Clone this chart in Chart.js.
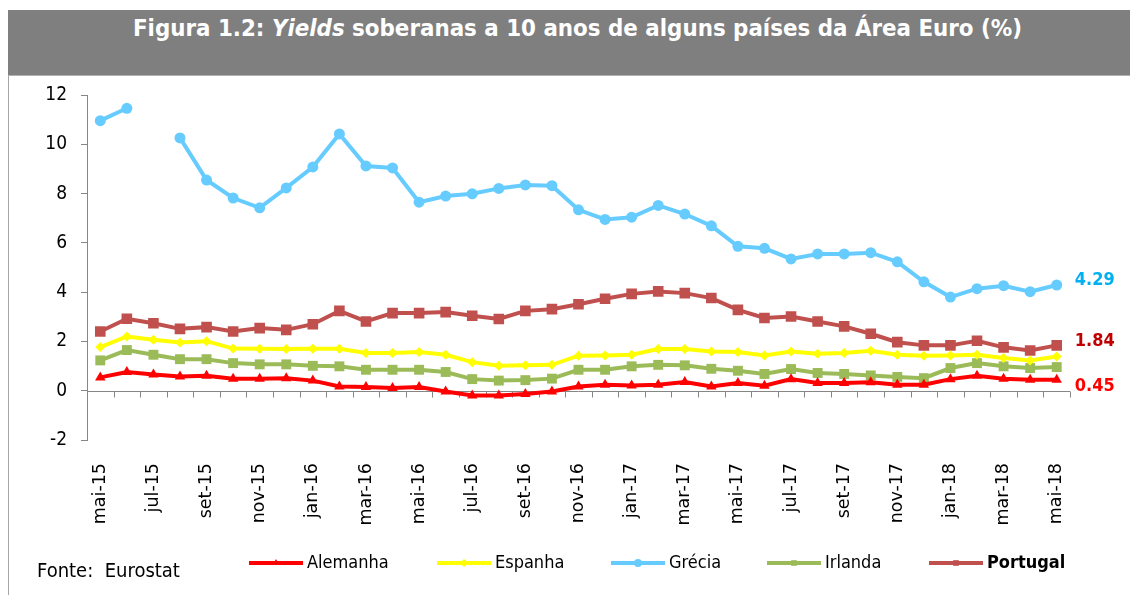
<!DOCTYPE html>
<html>
<head>
<meta charset="utf-8">
<script src="https://cdn.jsdelivr.net/npm/chart.js@4.4.1/dist/chart.umd.min.js"></script>
<style>
html,body{margin:0;padding:0;background:#fff;width:1130px;height:595px;overflow:hidden;}
#banner{position:absolute;left:8px;top:10px;width:1122px;height:65px;background:#7f7f7f;}
#title{position:absolute;left:25px;width:1105px;top:16px;line-height:24px;text-align:center;color:#fff;
  font-family:"DejaVu Sans Condensed","DejaVu Sans",sans-serif;font-weight:bold;font-size:23.8px;white-space:nowrap;}
#frame{position:absolute;left:8px;top:75px;width:1122px;height:520px;border-left:1px solid #a6a6a6;border-top:1px solid #b0b0b0;box-sizing:border-box;}
canvas{position:absolute;left:0;top:0;}
</style>
</head>
<body>
<div id="banner"></div>
<div id="title">Figura 1.2: <i>Yields</i> soberanas a 10 anos de alguns países da Área Euro (%)</div>
<div id="frame"></div>
<canvas id="c" width="1130" height="595"></canvas>
<script>
// ---- Data ----
const categories = ["mai-15","jun-15","jul-15","ago-15","set-15","out-15","nov-15","dez-15",
  "jan-16","fev-16","mar-16","abr-16","mai-16","jun-16","jul-16","ago-16","set-16","out-16","nov-16","dez-16",
  "jan-17","fev-17","mar-17","abr-17","mai-17","jun-17","jul-17","ago-17","set-17","out-17","nov-17","dez-17",
  "jan-18","fev-18","mar-18","abr-18","mai-18"];

const alemanha = [0.54,0.76,0.66,0.58,0.61,0.49,0.49,0.51,0.41,0.17,0.15,0.11,0.15,-0.03,-0.19,-0.19,-0.13,-0.03,0.17,0.24,
  0.21,0.24,0.35,0.17,0.31,0.20,0.47,0.31,0.31,0.34,0.24,0.24,0.47,0.61,0.49,0.45,0.45];
const espanha = [1.77,2.20,2.07,1.96,2.01,1.71,1.70,1.69,1.70,1.70,1.53,1.53,1.57,1.46,1.16,1.01,1.03,1.05,1.42,1.43,
  1.46,1.69,1.69,1.59,1.57,1.43,1.59,1.50,1.53,1.62,1.46,1.42,1.43,1.46,1.33,1.23,1.39];
const grecia = [10.96,11.46,null,10.26,8.55,7.82,7.42,8.23,9.08,10.42,9.12,9.04,7.65,7.90,7.99,8.21,8.35,8.32,7.34,6.95,
  7.04,7.52,7.17,6.69,5.86,5.78,5.35,5.55,5.55,5.60,5.23,4.42,3.80,4.14,4.26,4.02,4.29];
const irlanda = [1.23,1.65,1.46,1.28,1.28,1.12,1.07,1.07,1.01,0.99,0.85,0.85,0.85,0.76,0.47,0.41,0.43,0.49,0.85,0.85,
  0.99,1.05,1.03,0.89,0.81,0.68,0.88,0.72,0.68,0.62,0.56,0.51,0.92,1.12,0.99,0.92,0.96];
const portugal = [2.40,2.92,2.74,2.51,2.58,2.40,2.54,2.47,2.70,3.24,2.81,3.15,3.15,3.19,3.04,2.91,3.24,3.31,3.51,3.73,
  3.93,4.03,3.96,3.76,3.28,2.95,3.01,2.81,2.61,2.31,1.97,1.84,1.84,2.03,1.76,1.63,1.84];

const seriesNames = ["Alemanha","Espanha","Grécia","Irlanda","Portugal"];
const yTicks = [-2,0,2,4,6,8,10,12];
const sourceText = "Fonte:  Eurostat";

// ---- Plugins ----
const zeroAxis = {
  id: 'zeroAxis',
  beforeDatasetsDraw(chart) {
    const xs = chart.scales.x, ys = chart.scales.y, ctx = chart.ctx, ca = chart.chartArea;
    const y0 = Math.round(ys.getPixelForValue(0)) + 0.5;
    const step = xs.getPixelForValue(1) - xs.getPixelForValue(0);
    const start = xs.getPixelForValue(0) - step / 2;
    ctx.save();
    ctx.strokeStyle = '#868686';
    ctx.lineWidth = 1;
    ctx.beginPath();
    ctx.moveTo(ca.left, y0);
    ctx.lineTo(ca.right, y0);
    for (let i = 0; i <= categories.length; i++) {
      const px = Math.round(start + i * step) + 0.5;
      ctx.moveTo(px, y0);
      ctx.lineTo(px, y0 + 6);
    }
    ctx.stroke();
    ctx.restore();
  }
};

const endLabels = {
  id: 'endLabels',
  afterDatasetsDraw(chart, args, opts) {
    const ctx = chart.ctx;
    chart.data.datasets.forEach((ds, i) => {
      const cfg = opts.items[ds.label];
      if (!cfg) return;
      const meta = chart.getDatasetMeta(i);
      const last = meta.data[meta.data.length - 1];
      const v = ds.data[ds.data.length - 1];
      ctx.save();
      ctx.font = opts.font;
      ctx.fillStyle = cfg.color;
      ctx.textAlign = 'left';
      ctx.textBaseline = 'middle';
      ctx.fillText(v.toFixed(2), last.x + opts.dx, last.y + cfg.dy);
      ctx.restore();
    });
  }
};

const customLegend = {
  id: 'customLegend',
  afterDraw(chart, args, opts) {
    const ctx = chart.ctx;
    ctx.save();
    chart.data.datasets.forEach((ds, i) => {
      const x = opts.xs[i], y = opts.y;
      ctx.strokeStyle = ds.borderColor;
      ctx.lineWidth = 4;
      ctx.beginPath();
      ctx.moveTo(x, y);
      ctx.lineTo(x + opts.lineLen, y);
      ctx.stroke();
      ctx.fillStyle = ds.pointBackgroundColor;
      Chart.helpers.drawPoint(ctx, {pointStyle: ds.pointStyle, radius: 4, rotation: 0, borderWidth: 0}, x + opts.lineLen / 2, y);
      ctx.fillStyle = '#000';
      ctx.textAlign = 'left';
      ctx.textBaseline = 'middle';
      ctx.font = (ds.label === 'Portugal' ? 'bold ' : '') + opts.font;
      ctx.fillText(ds.label, x + opts.lineLen + 4, y);
    });
    ctx.font = opts.sourceFont;
    ctx.fillStyle = '#000';
    ctx.textAlign = 'left';
    ctx.textBaseline = 'middle';
    ctx.fillText(sourceText, 37, 572);
    ctx.restore();
  }
};

// ---- Chart ----
function mk(label, data, color, style, radius) {
  return {
    label, data,
    borderColor: color, backgroundColor: color,
    pointBackgroundColor: color, pointBorderColor: color,
    pointStyle: style, pointRadius: radius, pointBorderWidth: 0,
    borderWidth: 4, tension: 0, spanGaps: false, fill: false
  };
}

new Chart(document.getElementById('c'), {
  type: 'line',
  data: {
    labels: categories,
    datasets: [
      mk(seriesNames[0], alemanha, '#FF0000', 'triangle', 6),
      mk(seriesNames[1], espanha, '#FFFF00', 'rectRot', 5),
      mk(seriesNames[2], grecia, '#66CCFF', 'circle', 5.5),
      mk(seriesNames[3], irlanda, '#9BBB59', 'rect', 7),
      mk(seriesNames[4], portugal, '#C0504D', 'rect', 7.5)
    ]
  },
  options: {
    responsive: false,
    animation: false,
    devicePixelRatio: 1,
    layout: {padding: {left: 0, top: 95, right: 60, bottom: 0}},
    plugins: {
      legend: {display: false},
      tooltip: {enabled: false},
      title: {display: false},
      endLabels: {
        font: 'bold 18px "DejaVu Sans Condensed", "DejaVu Sans"',
        dx: 18,
        items: {
          'Grécia': {color: '#00B0F0', dy: -5},
          'Portugal': {color: '#C00000', dy: -4},
          'Alemanha': {color: '#FF0000', dy: 7}
        }
      },
      customLegend: {
        xs: [249, 437, 611, 767, 929],
        y: 563,
        lineLen: 54,
        font: '18px "DejaVu Sans Condensed", "DejaVu Sans"',
        sourceFont: '20px "DejaVu Sans Condensed", "DejaVu Sans"'
      }
    },
    scales: {
      x: {
        type: 'category',
        offset: true,
        grid: {display: false},
        border: {display: false},
        ticks: {
          autoSkip: false,
          maxRotation: 90,
          minRotation: 90,
          padding: 15,
          color: '#000',
          font: {family: '"DejaVu Sans", sans-serif', size: 17.5},
          callback: (v, i) => (i % 2 === 0 ? categories[i] : '')
        },
        afterFit: (s) => { s.height = 155; }
      },
      y: {
        min: -2, max: 12,
        afterBuildTicks: (s) => { s.ticks = yTicks.map(v => ({value: v})); },
        grid: {drawOnChartArea: false, drawTicks: true, tickLength: 6, color: '#868686'},
        border: {display: true, color: '#868686', width: 1},
        ticks: {
          padding: 14,
          color: '#000',
          font: {family: '"DejaVu Sans Condensed", "DejaVu Sans", sans-serif', size: 19}
        },
        afterFit: (s) => { s.width = 87; }
      }
    }
  },
  plugins: [zeroAxis, endLabels, customLegend]
});
</script>
</body>
</html>
